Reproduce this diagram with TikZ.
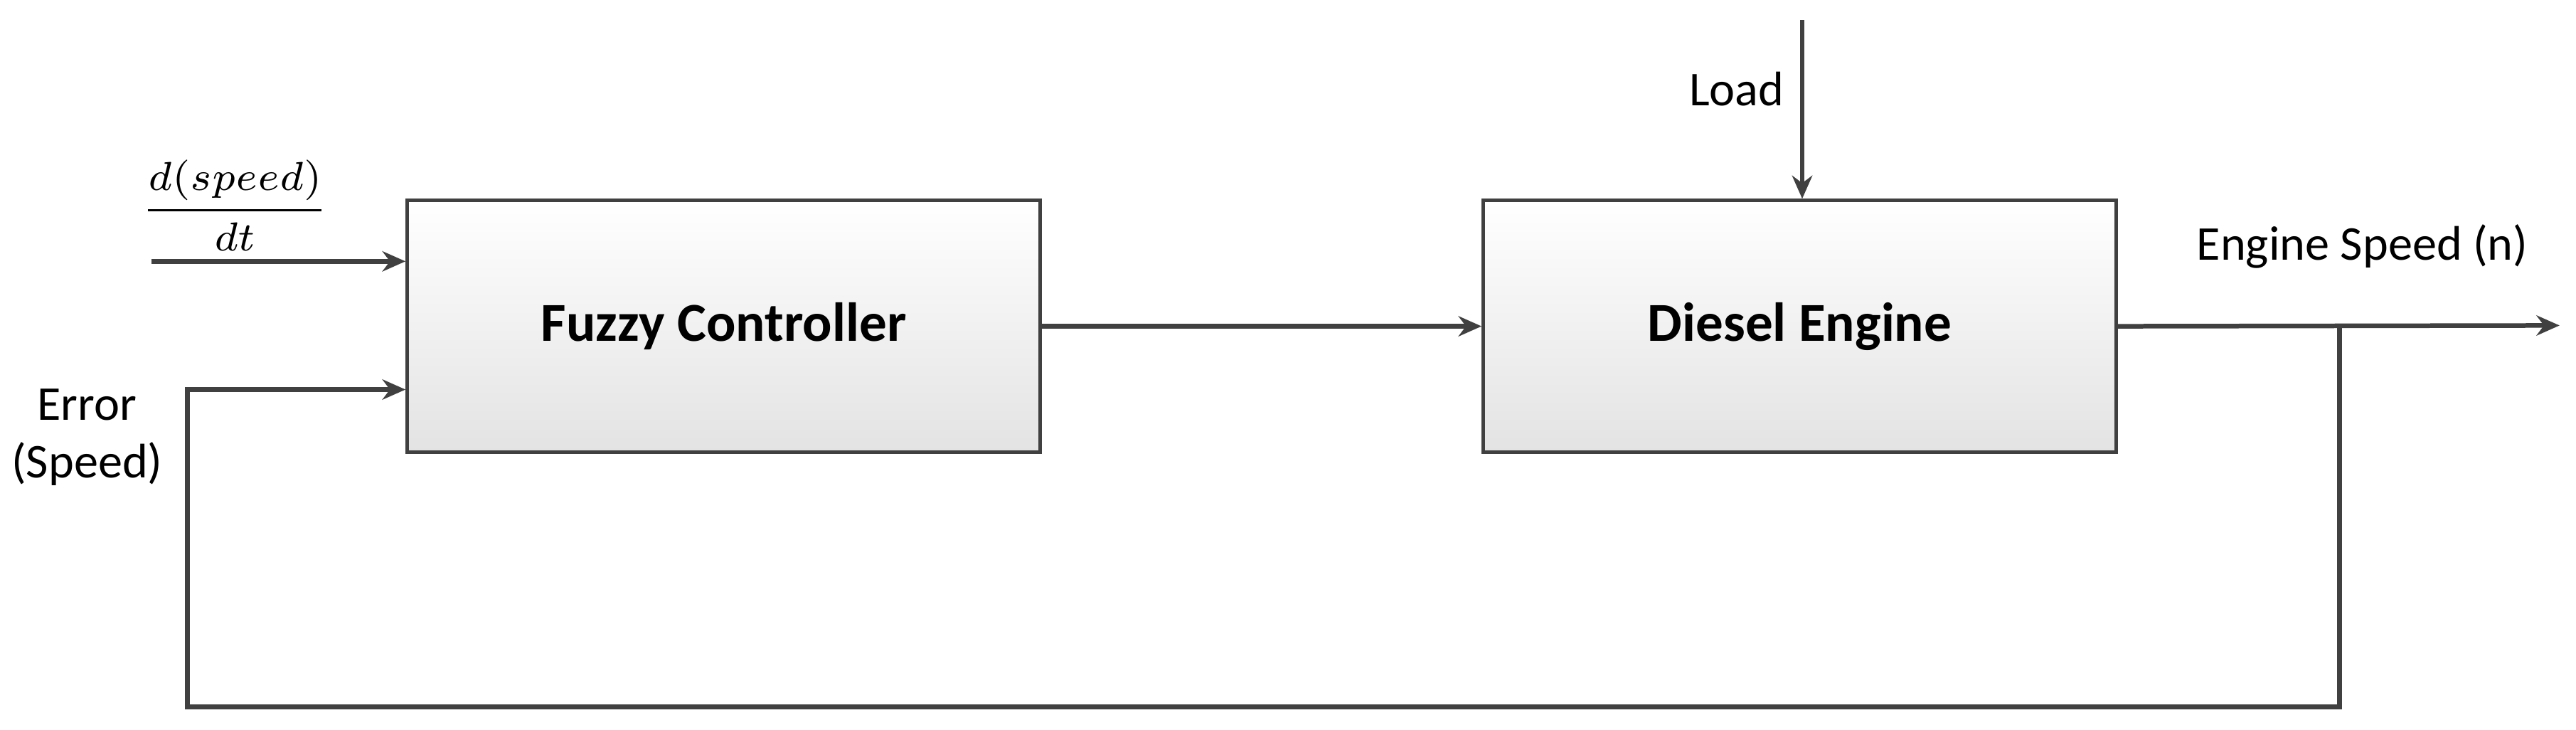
\documentclass[tikz,border=0pt]{standalone}
\usepackage{fontspec}
\setmainfont{Carlito}
\usetikzlibrary{arrows.meta}
\definecolor{linegray}{HTML}{404040}
\tikzset{
  block/.style={draw=linegray, line width=0.6pt, minimum width=3.85cm, minimum height=1.53cm,
    top color=white, bottom color=gray!22, font=\fontsize{9.5}{11}\selectfont\bfseries},
  wire/.style={draw=linegray, line width=0.8pt},
  arr/.style={wire, -{Stealth[length=4pt,width=3.5pt]}},
  lbl/.style={font=\fontsize{8.4}{10}\selectfont, text=black, align=center}
}
\begin{document}
\begin{tikzpicture}[x=0.01cm, y=-0.01cm]
\useasboundingbox (0,0) rectangle (1568,444);
\node[block] (fuzzy) at (440.5,198.5){Fuzzy Controller};
\node[block] (engine) at (1095.5,198.5){Diesel Engine};
\coordinate (din) at (92,159);
\coordinate (loadin) at (1097,12);
\coordinate (out) at (1558,198);
\coordinate (tap) at (1424,198);
\coordinate (fbr) at (1424,430);
\coordinate (fbl) at (114,430);
\coordinate (errc) at (114,237);
\node[font=\fontsize{7.4}{9}\selectfont] (dlbl) at (143,125){$\displaystyle\frac{d(speed)}{dt}$};
\node[lbl] (loadlbl) at (1057,54){Load};
\node[lbl] (outlbl) at (1438,150){Engine Speed (n)};
\node[lbl] (errlbl) at (53,266){Error\\(Speed)};
\draw[arr] (din) -- (din -| fuzzy.west);
\draw[arr] (loadin) -- (loadin |- engine.north);
\draw[arr] (fuzzy.east) -- (engine.west);
\draw[arr] (engine.east) -- (out);
\draw[arr] (tap) -- (fbr) -- (fbl) -- (errc) -- (errc -| fuzzy.west);
\end{tikzpicture}
\end{document}
